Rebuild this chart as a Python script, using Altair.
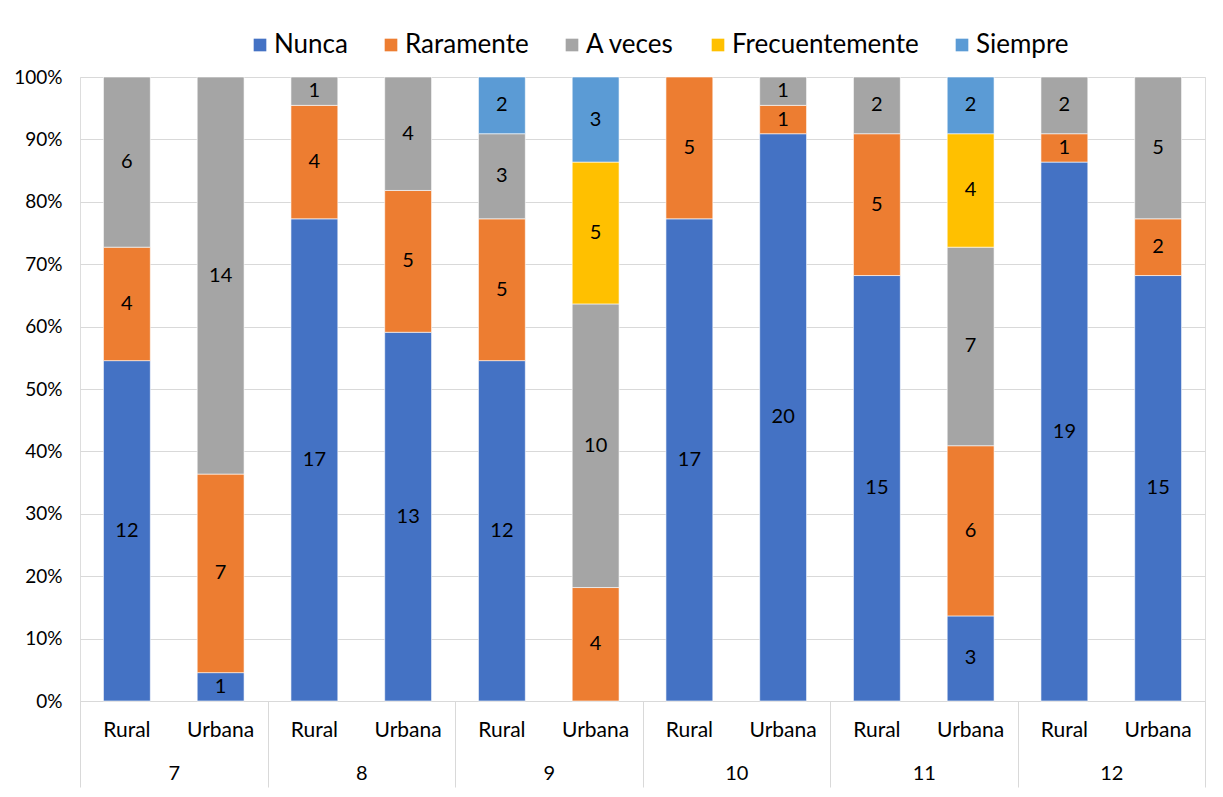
import altair as alt
import pandas as pd

grades = ["7", "8", "9", "10", "11", "12"]
zones = ["Rural", "Urbana"]
categories = ["Nunca", "Raramente", "A veces", "Frecuentemente", "Siempre"]
colors = ["#4472C4", "#ED7D31", "#A5A5A5", "#FFC000", "#5B9BD5"]

# one value per bar: 7 Rural, 7 Urbana, 8 Rural, 8 Urbana, ...
nunca = [12, 1, 17, 13, 12, 0, 17, 20, 15, 3, 19, 15]
raramente = [4, 7, 4, 5, 5, 4, 5, 1, 5, 6, 1, 2]
a_veces = [6, 14, 1, 4, 3, 10, 0, 1, 2, 7, 2, 5]
frecuentemente = [0, 0, 0, 0, 0, 5, 0, 0, 0, 4, 0, 0]
siempre = [0, 0, 0, 0, 2, 3, 0, 0, 0, 2, 0, 0]

series = [nunca, raramente, a_veces, frecuentemente, siempre]

rows = []
for ci, (cat, vals) in enumerate(zip(categories, series)):
    for i, v in enumerate(vals):
        if v > 0:
            rows.append({"grade": grades[i // 2], "zone": zones[i % 2],
                         "cat": cat, "idx": ci, "value": v})
df = pd.DataFrame(rows)

labels_df = pd.DataFrame([{"grade": g, "zone": z} for g in grades for z in zones])

FONT = "Lato"
W, H = 1125, 624

x_enc = alt.X("grade:N", sort=grades,
              scale=alt.Scale(paddingInner=0, paddingOuter=0),
              axis=alt.Axis(title=None, labelAngle=0, domain=True, domainColor="#D9D9D9",
                            ticks=True, tickBand="extent", tickSize=86, tickColor="#D9D9D9",
                            labelPadding=-24, labelFontSize=20, labelColor="#000000",
                            labelFont=FONT, grid=False))
xo_enc = alt.XOffset("zone:N", sort=zones,
                     scale=alt.Scale(paddingInner=0.5, paddingOuter=0.25))

base = alt.Chart(df).transform_stack(
    stack="value", as_=["v0", "v1"], groupby=["grade", "zone"],
    sort=[alt.SortField("idx", order="ascending")], offset="normalize"
).transform_calculate(mid="(datum.v0 + datum.v1) / 2")

bars = base.mark_bar(stroke="white", strokeWidth=0.6).encode(
    x=x_enc,
    xOffset=xo_enc,
    y=alt.Y("v0:Q", scale=alt.Scale(domain=[0, 1]),
            axis=alt.Axis(title=None, format="%", values=[i / 10 for i in range(11)],
                          domain=False, ticks=False, labelPadding=18, labelFontSize=19,
                          labelColor="#000000", labelFont=FONT,
                          gridColor="#D9D9D9", gridWidth=1)),
    y2="v1:Q",
    color=alt.Color("cat:N", sort=categories,
                    scale=alt.Scale(domain=categories, range=colors),
                    legend=alt.Legend(title=None, orient="none", direction="horizontal",
                                      legendX=167, legendY=-45, symbolType="square",
                                      symbolSize=160, symbolStrokeWidth=0,
                                      labelFontSize=26, labelFont=FONT, labelColor="#000000",
                                      labelLimit=0, columnPadding=30, labelOffset=1)),
    order=alt.Order("idx:Q"),
)

texts = base.mark_text(fontSize=20, font=FONT, color="#000000", baseline="middle").encode(
    x=alt.X("grade:N", sort=grades),
    xOffset=alt.XOffset("zone:N", sort=zones),
    y=alt.Y("mid:Q"),
    text=alt.Text("value:Q"),
)

zone_labels = alt.Chart(labels_df).mark_text(fontSize=21, font=FONT, color="#000000",
                                              baseline="middle").encode(
    x=alt.X("grade:N", sort=grades),
    xOffset=alt.XOffset("zone:N", sort=zones),
    y=alt.value(H + 30),
    text="zone:N",
)

chart = alt.layer(bars, texts, zone_labels).properties(
    width=W, height=H,
    padding={"left": 5, "top": 24, "right": 5, "bottom": 5},
).configure_view(stroke=None).configure(font=FONT, background="white")

chart.save("out.html", embed_options={"renderer": "svg", "actions": False})
